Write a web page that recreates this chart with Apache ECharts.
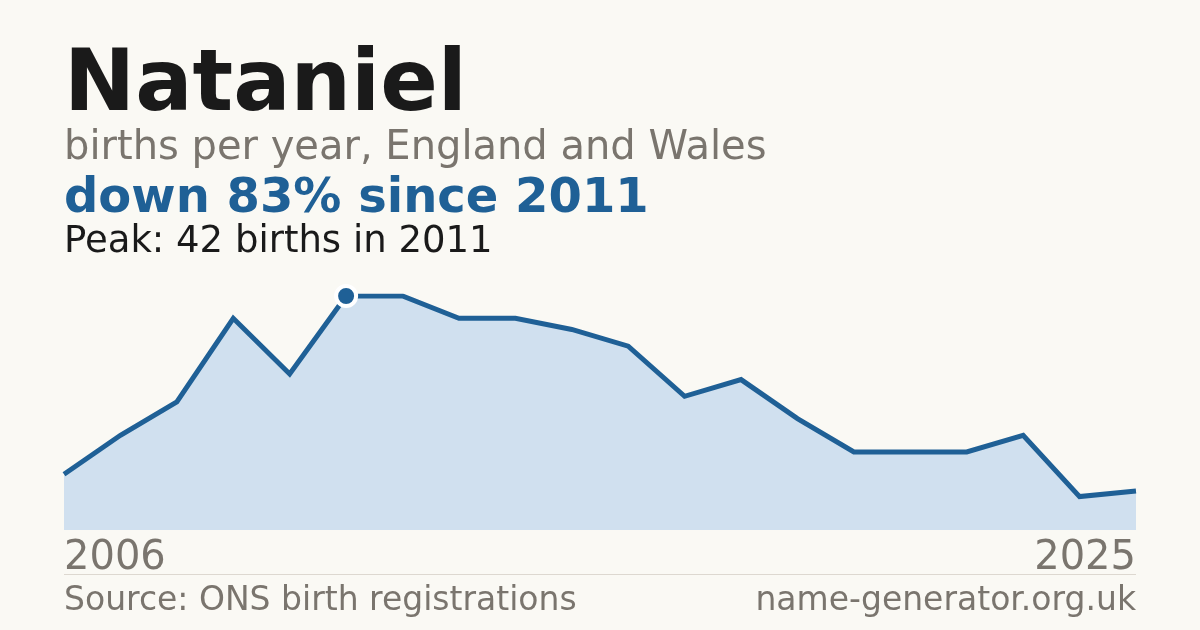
<!DOCTYPE html>
<html><head><meta charset="utf-8">
<script src="https://cdn.jsdelivr.net/npm/echarts@6/dist/echarts.min.js"></script>
<style>html,body{margin:0;padding:0;background:#faf9f4;}#c{width:1200px;height:630px;}</style>
</head><body><div id="c"></div>
<script>
const years = ['2006','2007','2008','2009','2010','2011','2012','2013','2014','2015','2016','2017','2018','2019','2020','2021','2022','2023','2024','2025'];
const births = [10,17,23,38,28,42,42,38,38,36,33,24,27,20,14,14,14,17,6,7];
const peakIndex = 5;
const titleText = 'Nataniel';
const subtitleText = 'births per year, England and Wales';
const headlineText = 'down 83% since 2011';
const peakText = 'Peak: 42 births in 2011';
const sourceText = 'Source: ONS birth registrations';
const siteText = 'name-generator.org.uk';

const FONT = '"DejaVu Sans", sans-serif';
const chart = echarts.init(document.getElementById('c'), null, {renderer:'canvas'});
chart.setOption({
  backgroundColor:'#faf9f4',
  animation:false,
  grid:{left:64,right:64,top:296,bottom:100,containLabel:false},
  xAxis:{type:'category',data:years,boundaryGap:false,
    axisLine:{show:false},axisTick:{show:false},splitLine:{show:false},
    axisLabel:{show:true,interval:0,margin:9,fontFamily:FONT,fontSize:40,color:'#7a756e',
      formatter:(v,i)=> (i===0||i===years.length-1)?v:'',
      alignMinLabel:'left',alignMaxLabel:'right',verticalAlign:'top'}},
  yAxis:{type:'value',min:0,max:42,show:false,splitLine:{show:false}},
  series:[{type:'line',data:births,symbol:'none',smooth:false,
    lineStyle:{color:'#1f6096',width:5,join:'miter'},
    areaStyle:{color:'#d0e0ef',opacity:1},
    markPoint:{symbol:'circle',symbolSize:20,silent:true,
      itemStyle:{color:'#1f6096',borderColor:'#ffffff',borderWidth:4},
      label:{show:false},
      data:[{coord:[peakIndex,births[peakIndex]]}]}
  }],
  graphic:[
    {type:'text',left:64,top:45,style:{text:titleText,font:'bold 85px '+FONT,fill:'#1a1a1a'}},
    {type:'text',left:64,top:129,style:{text:subtitleText,font:'40px '+FONT,fill:'#7a756e'}},
    {type:'text',left:64,top:176,style:{text:headlineText,font:'bold 48px '+FONT,fill:'#1f6096'}},
    {type:'text',left:64,top:224,style:{text:peakText,font:'37px '+FONT,fill:'#1a1a1a'}},
    {type:'line',shape:{x1:64,y1:574.5,x2:1136,y2:574.5},style:{stroke:'#ddd8d0',lineWidth:1}},
    {type:'text',left:64,top:585,style:{text:sourceText,font:'33px '+FONT,fill:'#7a756e'}},
    {type:'text',right:64,top:585,style:{text:siteText,font:'33px '+FONT,fill:'#7a756e'}}
  ]
});
</script></body></html>
